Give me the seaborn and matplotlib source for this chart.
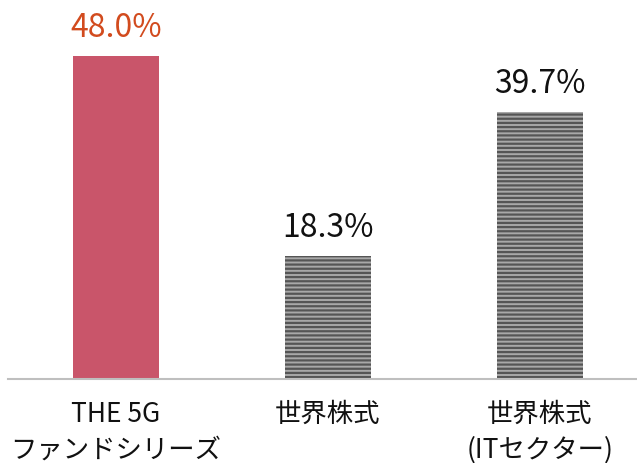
import matplotlib
matplotlib.use('Agg')
import matplotlib.pyplot as plt
import seaborn as sns

categories = ['THE 5G\nファンドシリーズ', '世界株式', '世界株式\n(ITセクター)']
values = [48.0, 18.3, 39.7]
value_labels = ['48.0%', '18.3%', '39.7%']

sns.set_theme(style='white')
plt.rcParams['font.family'] = ['Noto Sans CJK JP', 'DejaVu Sans']
plt.rcParams['hatch.linewidth'] = 1.6

fig = plt.figure(figsize=(6.37, 4.64), dpi=100)
ax = fig.add_axes([8 / 637, 84 / 464, 629 / 637, 380 / 464])

bar_colors = ['#C9556A', '#A8A8A8', '#A8A8A8']
sns.barplot(x=categories, y=values, hue=categories, palette=bar_colors,
            legend=False, width=0.405, saturation=1, ax=ax)

for i, p in enumerate(ax.patches):
    p.set_linewidth(0)
    if i > 0:
        p.set_hatch('----')
        p.set_edgecolor('#555555')

label_colors = ['#D24B1E', '#111111', '#111111']
for i, (v, lab) in enumerate(zip(values, value_labels)):
    ax.text(i, v + 3.0, lab, ha='center', va='baseline', fontsize=23,
            color=label_colors[i])

ax.set_xlim(-0.509, 2.458)
ax.set_ylim(0, 56.5)
ax.set_yticks([])
ax.tick_params(axis='x', length=0, pad=15, labelsize=19, colors='#111111')
for s in ['top', 'right', 'left']:
    ax.spines[s].set_visible(False)
ax.spines['bottom'].set_color('#BFBFBF')
ax.spines['bottom'].set_linewidth(1.5)
for t in ax.get_xticklabels():
    t.set_linespacing(1.4)

fig.savefig('out.png', dpi=100)
